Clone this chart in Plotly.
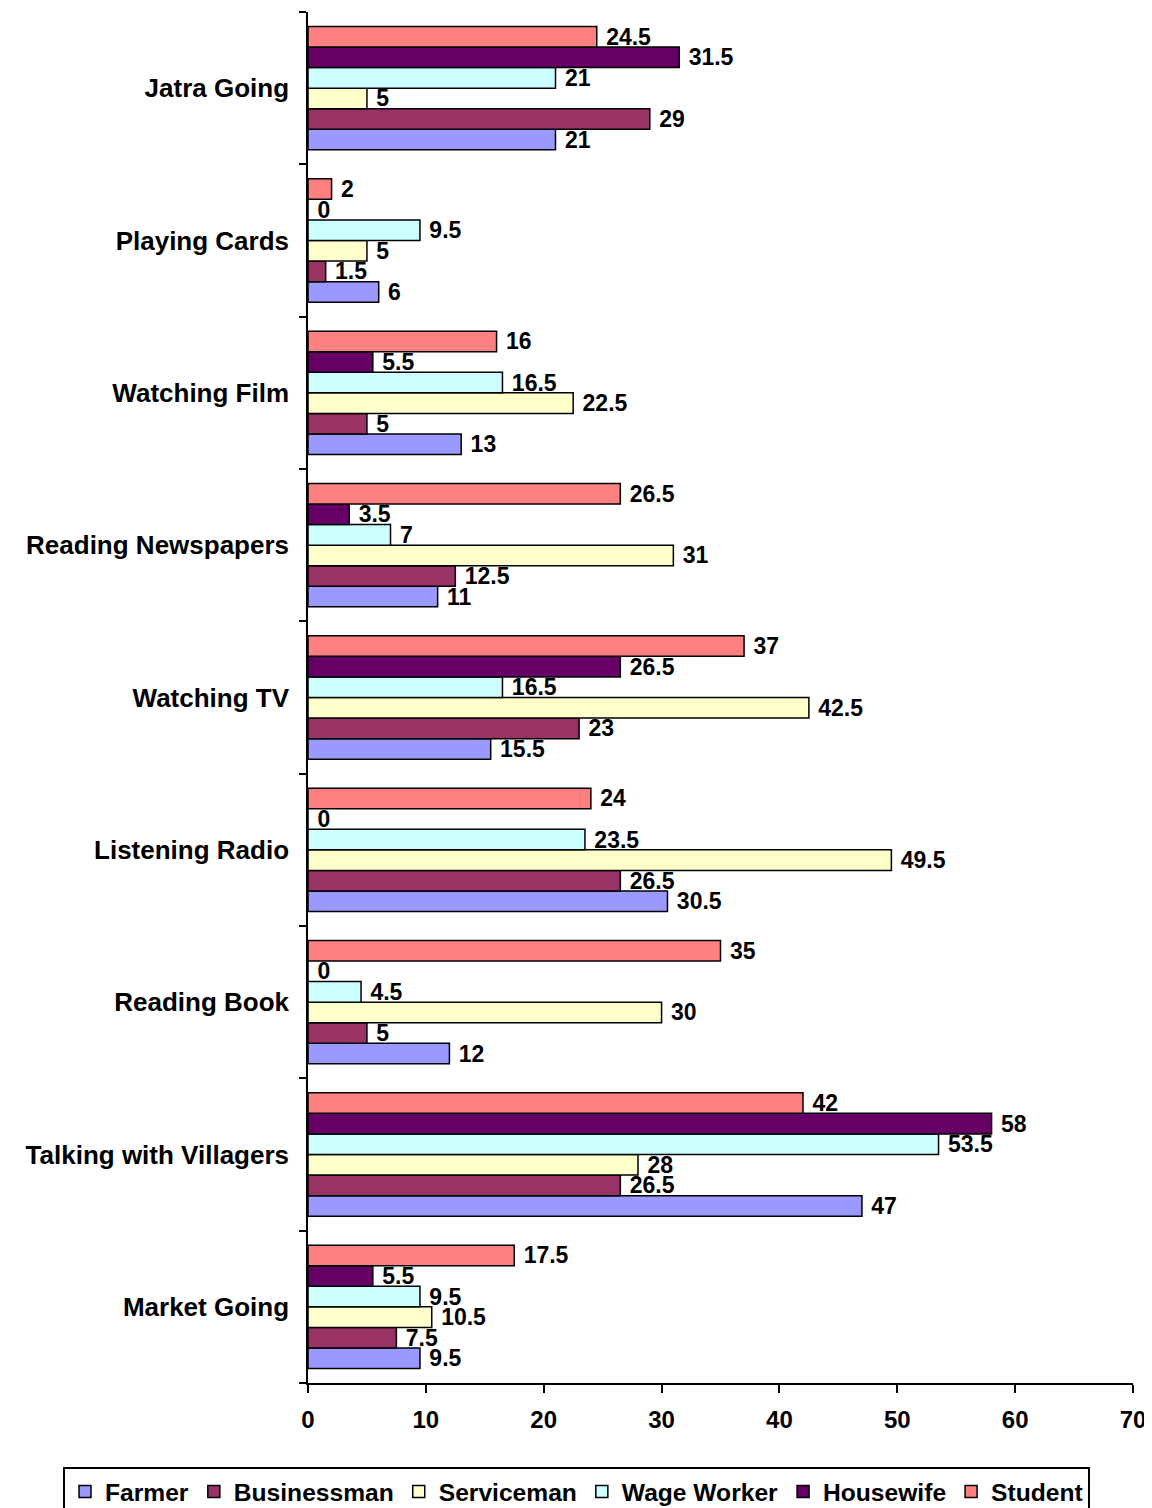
import plotly.graph_objects as go

categories = ["Jatra Going", "Playing Cards", "Watching Film", "Reading Newspapers",
              "Watching TV", "Listening Radio", "Reading Book",
              "Talking with Villagers", "Market Going"]

farmer      = [21, 6, 13, 11, 15.5, 30.5, 12, 47, 9.5]
businessman = [29, 1.5, 5, 12.5, 23, 26.5, 5, 26.5, 7.5]
serviceman  = [5, 5, 22.5, 31, 42.5, 49.5, 30, 28, 10.5]
wage_worker = [21, 9.5, 16.5, 7, 16.5, 23.5, 4.5, 53.5, 9.5]
housewife   = [31.5, 0, 5.5, 3.5, 26.5, 0, 0, 58, 5.5]
student     = [24.5, 2, 16, 26.5, 37, 24, 35, 42, 17.5]

series_names = ["Farmer", "Businessman", "Serviceman", "Wage Worker", "Housewife", "Student"]
series_values = [farmer, businessman, serviceman, wage_worker, housewife, student]
colors = ["#9999FF", "#993366", "#FFFFCC", "#CCFFFF", "#660066", "#FF8080"]

x_ticks = [0, 10, 20, 30, 40, 50, 60, 70]

FONT = "Liberation Sans, Arial, sans-serif"

# page body has an 8px margin; compensate so the plot lands where the reference has it
OFF = 8
W, H = 1152, 1508
ML, MR, MT, MB = 308 - OFF, 19 + OFF, 12 - OFF, 125 + OFF
PW, PH = W - ML - MR, H - MT - MB

fig = go.Figure()
cats_bottom_up = categories[::-1]
for name, vals, col in zip(series_names, series_values, colors):
    v = vals[::-1]
    fig.add_trace(go.Bar(
        name=name, y=cats_bottom_up, x=v, orientation="h",
        marker=dict(color=col, line=dict(color="black", width=1.5)),
        text=["\u00a0" + f"{t:g}" for t in v], textposition="outside",
        textfont=dict(family=FONT, size=23, color="black", weight="bold"),
        constraintext="none", cliponaxis=False,
    ))

fig.update_layout(
    width=W, height=H,
    barmode="group", bargap=0.19, bargroupgap=0,
    plot_bgcolor="white", paper_bgcolor="white",
    margin=dict(l=ML, r=MR, t=MT, b=MB, autoexpand=False),
    font=dict(family=FONT, color="black"),
    legend=dict(
        orientation="h", x=(63 - OFF - ML) / PW, xanchor="left",
        y=-(1467 - OFF - (H - MB)) / PH, yanchor="top",
        bordercolor="black", borderwidth=2, traceorder="normal",
        font=dict(family=FONT, size=24.6, color="black", weight="bold"),
        itemwidth=30,
    ),
    xaxis=dict(
        range=[0, 70], tickvals=x_ticks, showgrid=False, zeroline=False,
        showline=True, linecolor="black", linewidth=1.5,
        ticks="outside", ticklen=8, tickcolor="black", tickwidth=1.5,
        tickfont=dict(family=FONT, size=24, color="black", weight="bold"),
        ticklabelstandoff=6, automargin=False,
    ),
    yaxis=dict(
        categoryorder="array", categoryarray=cats_bottom_up,
        showgrid=False, zeroline=False,
        showline=True, linecolor="black", linewidth=1.5,
        ticks="outside", ticklen=7, tickcolor="black", tickwidth=1.5,
        tickson="boundaries",
        tickfont=dict(family=FONT, size=26, color="black", weight="bold"),
        ticklabelstandoff=12, automargin=False,
    ),
)

fig.write_html("out.html")
